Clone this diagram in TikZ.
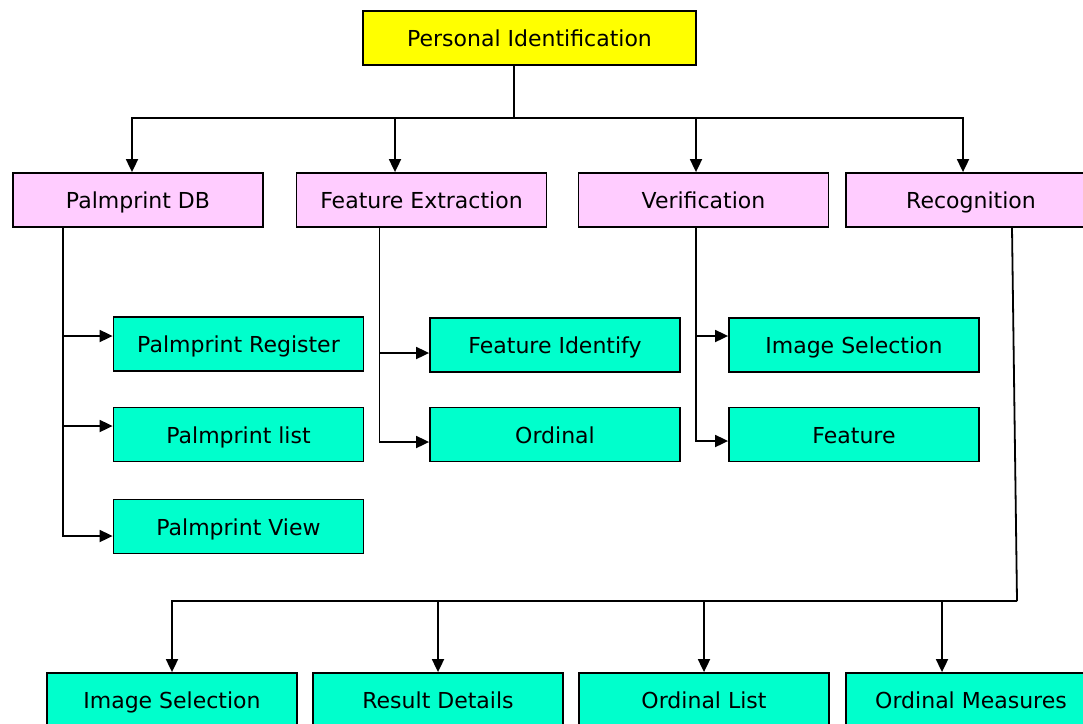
\documentclass[tikz,border=0pt]{standalone}
\usepackage{fontspec}
\setmainfont{DejaVu Sans}
\usetikzlibrary{positioning,arrows.meta,calc}

\definecolor{rootyellow}{HTML}{FFFF00}
\definecolor{modpink}{HTML}{FFCCFF}
\definecolor{taskgreen}{HTML}{00FFCC}

\begin{document}
\begin{tikzpicture}[
    x=1pt, y=-1pt,
    box/.style={rectangle, draw, line width=1.8pt, minimum width=250pt, minimum height=54pt, inner sep=0pt, text centered, text height=17pt, text depth=0pt, font=\fontsize{22}{24}\selectfont},
    root/.style={box, fill=rootyellow, minimum width=333pt},
    module/.style={box, fill=modpink},
    task/.style={box, fill=taskgreen},
    line/.style={line width=1.8pt},
    arrow/.style={line, -{Triangle[length=13pt, width=12pt]}}
]

\useasboundingbox (0,0) rectangle (1083,723);

% Root block
\node[root] (pid) at (529.5,38) {Personal Identification};

% Four modules
\node[module] (pdb) at (138,200) {Palmprint DB};
\node[module] (fex) at (421.5,200) {Feature Extraction};
\node[module] (ver) at (703.5,200) {Verification};
\node[module] (rec) at (971,200) {Recognition};

% Palmprint DB tasks
\node[task] (preg) at (238.5,344) {Palmprint Register};
\node[task] (plist) at (238.5,434.5) {Palmprint list};
\node[task] (pview) at (238.5,526.5) {Palmprint View};

% Feature Extraction tasks
\node[task] (fid) at (555,345) {Feature Identify};
\node[task] (ord) at (555,434.5) {Ordinal};

% Verification tasks
\node[task] (vsel) at (854,345) {Image Selection};
\node[task] (vfeat) at (854,434.5) {Feature};

% Recognition tasks
\node[task] (rsel) at (172,700) {Image Selection};
\node[task] (rres) at (438,700) {Result Details};
\node[task] (rlist) at (704,700) {Ordinal List};
\node[task] (rmeas) at (971,700) {Ordinal Measures};

% Branching points
\coordinate (top_branch) at (514,118);
\coordinate (rec_turn) at (1017,601);

% Root to modules
\draw[line] ([xshift=-15.5pt]pid.south) -- (top_branch);
\draw[arrow] (top_branch) -| ([xshift=-6pt]pdb.north);
\draw[arrow] (top_branch) -| ([xshift=-26.5pt]fex.north);
\draw[arrow] (top_branch) -| ([xshift=-7.5pt]ver.north);
\draw[arrow] (top_branch) -| ([xshift=-8pt]rec.north);

% Palmprint DB to tasks
\draw[arrow] ([xshift=-75pt]pdb.south) |- ([yshift=8pt]preg.west);
\draw[arrow] ([xshift=-75pt]pdb.south) |- ([yshift=8.5pt]plist.west);
\draw[arrow] ([xshift=-75pt]pdb.south) |- ([yshift=-9.5pt]pview.west);

% Feature Extraction to tasks
\draw[arrow] ([xshift=-42pt]fex.south) |- ([yshift=-8pt]fid.west);
\draw[arrow] ([xshift=-42pt]fex.south) |- ([yshift=-7.5pt]ord.west);

% Verification to tasks
\draw[arrow] ([xshift=-7.5pt]ver.south) |- ([yshift=9pt]vsel.west);
\draw[arrow] ([xshift=-7.5pt]ver.south) |- ([yshift=-6.5pt]vfeat.west);

% Recognition to tasks
\draw[line] ([xshift=41pt]rec.south) -- (rec_turn);
\draw[arrow] (rec_turn) -| (rsel.north);
\draw[arrow] (rec_turn) -| (rres.north);
\draw[arrow] (rec_turn) -| (rlist.north);
\draw[arrow] (rec_turn) -| ([xshift=-29pt]rmeas.north);

\end{tikzpicture}
\end{document}
